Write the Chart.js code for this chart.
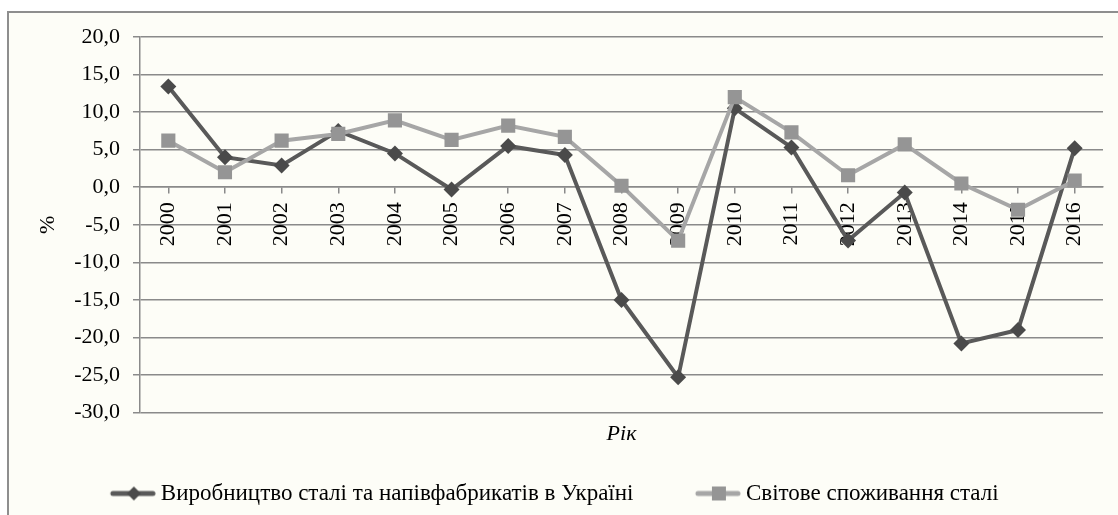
<!DOCTYPE html>
<html>
<head>
<meta charset="utf-8">
<script src="https://cdn.jsdelivr.net/npm/chart.js@4/dist/chart.umd.min.js"></script>
<style>
  html, body { margin: 0; padding: 0; background: #ffffff; overflow: hidden; }
  #frame {
    position: absolute; left: 7px; top: 11px;
    width: 1120px; height: 520px;
    border-left: 2px solid #8e8e8e; border-top: 2px solid #8e8e8e;
    background: #fdfdf7;
  }
  #steelChart { position: absolute; left: -30px; top: 0; }
</style>
</head>
<body>
<div id="frame">
  <canvas id="steelChart" width="1139" height="502"></canvas>
</div>
<script>
// data
const years = ['2000', '2001', '2002', '2003', '2004', '2005', '2006', '2007', '2008',
               '2009', '2010', '2011', '2012', '2013', '2014', '2015', '2016'];
const ukraineProduction = [13.4, 4.0, 2.9, 7.5, 4.5, -0.3, 5.5, 4.3, -15.0,
                           -25.3, 10.5, 5.3, -7.1, -0.7, -20.8, -19.0, 5.2];
const worldConsumption = [6.2, 2.0, 6.2, 7.1, 8.9, 6.3, 8.2, 6.7, 0.2,
                          -7.1, 12.0, 7.3, 1.6, 5.7, 0.5, -3.0, 0.9];
const seriesNames = ['Виробництво сталі та напівфабрикатів в Україні', 'Світове споживання сталі'];
const yMin = -30, yMax = 20, yStep = 5;

const serif = 'Liberation Serif, Times New Roman, serif';
const gridColor = '#8a8a8a';
const darkColor = '#595959';
const lightColor = '#a6a6a6';

// legend swatch: short line with the marker in the middle,
// sitting in the right part of a wider transparent image
function legendSwatch(lineColor, markerColor, diamond) {
    const c = document.createElement('canvas');
    c.width = 79; c.height = 16;
    const g = c.getContext('2d');
    const x0 = 36, x1 = 78, mid = (x0 + x1) / 2;
    g.strokeStyle = lineColor;
    g.lineWidth = 5;
    g.lineCap = 'round';
    g.beginPath(); g.moveTo(x0, 8); g.lineTo(x1 - 2, 8); g.stroke();
    g.fillStyle = markerColor;
    g.beginPath();
    if (diamond) {
        g.moveTo(mid, 1); g.lineTo(mid + 7, 8); g.lineTo(mid, 15); g.lineTo(mid - 7, 8);
    } else {
        g.rect(mid - 7, 1, 14, 14);
    }
    g.fill();
    return c;
}
const swatches = [legendSwatch(darkColor, '#4a4a4a', true), legendSwatch(lightColor, '#959595', false)];

const ctx = document.getElementById('steelChart').getContext('2d');
const steelChart = new Chart(ctx, {
    type: 'line',
    data: {
        labels: years,
        datasets: [{
            label: seriesNames[0],
            data: ukraineProduction,
            borderColor: darkColor,
            borderWidth: 4,
            pointStyle: 'rectRot',
            pointRadius: 8,
            pointBackgroundColor: '#4a4a4a',
            pointBorderWidth: 0,
            order: 1
        }, {
            label: seriesNames[1],
            data: worldConsumption,
            borderColor: lightColor,
            borderWidth: 4,
            pointStyle: 'rect',
            pointRadius: 10,
            pointBackgroundColor: '#959595',
            pointBorderWidth: 0,
            order: 0
        }]
    },
    options: {
        responsive: false,
        animation: false,
        layout: { padding: { top: 24, right: 15, left: 0, bottom: 0 } },
        scales: {
            x: {
                type: 'category',
                position: { y: 0 },
                offset: true,
                grid: { drawOnChartArea: false, drawTicks: true, tickLength: 6, color: gridColor, lineWidth: 1.5 },
                border: { display: true, color: gridColor, width: 1.5 },
                ticks: {
                    autoSkip: false, maxRotation: 90, minRotation: 90, padding: 9,
                    color: '#000', font: { family: serif, size: 22 }
                }
            },
            xTitle: {
                type: 'category',
                position: 'bottom',
                labels: years,
                grid: { display: false },
                border: { display: false },
                ticks: { display: false },
                title: {
                    display: true, text: 'Рік', color: '#000',
                    font: { family: serif, size: 22, style: 'italic' },
                    padding: { top: 0, bottom: 0 }
                }
            },
            y: {
                min: yMin, max: yMax,
                grid: { color: gridColor, lineWidth: 1.5, tickLength: 7 },
                border: { display: true, color: gridColor, width: 1.5 },
                ticks: {
                    stepSize: yStep, padding: 13, color: '#000',
                    font: { family: serif, size: 22 },
                    callback: v => v.toFixed(1).replace('.', ',')
                },
                title: {
                    display: true, text: '%', color: '#000',
                    font: { family: serif, size: 22 },
                    padding: { top: 56, bottom: 0 }
                },
                afterFit: scale => { scale.width = 161; scale.paddingTop = 0; }
            }
        },
        plugins: {
            tooltip: { enabled: false },
            legend: {
                position: 'bottom',
                labels: {
                    color: '#000',
                    font: { family: serif, size: 23 },
                    usePointStyle: true,
                    pointStyleWidth: 66,
                    padding: 35,
                    sort: (a, b) => a.datasetIndex - b.datasetIndex,
                    generateLabels: chart => {
                        const items = Chart.defaults.plugins.legend.labels.generateLabels(chart);
                        items.forEach(it => { it.pointStyle = swatches[it.datasetIndex]; });
                        return items;
                    }
                }
            }
        }
    }
});
</script>
</body>
</html>
